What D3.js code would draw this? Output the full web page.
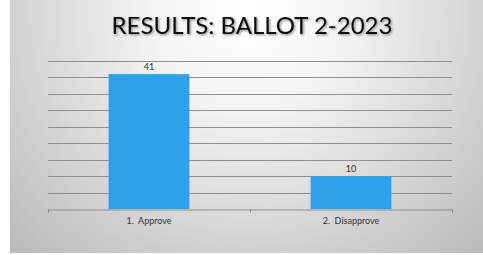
<!DOCTYPE html>
<html>
<head>
<meta charset="utf-8">
<script src="https://cdn.jsdelivr.net/npm/d3@7"></script>
<style>
  body { margin: 0; background: #fff; }
  svg { display: block; }
</style>
</head>
<body>
<div id="vis"></div>
<script>
// Data ----------------------------------------------------------------------------------------------------------------
const categories = ["1.  Approve", "2.  Disapprove"];
const votes = [41, 10];
const yTicks = [0, 5, 10, 15, 20, 25, 30, 35, 40, 45];
const titleText = "RESULTS: BALLOT 2-2023";

// Canvas --------------------------------------------------------------------------------------------------------------
const canvasWidth = 483;
const canvasHeight = 255;

const slideLeft = 10;
const slideBottom = 253;

const leftPadding = 48;
const plotRight = 452;
const topPadding = 61;
const bottomPadding = 46;

const fontStack = "'Century Gothic', 'Lato', 'DejaVu Sans', sans-serif";
const gridColor = "#8f8f8f";

const svg = d3.select("#vis")
  .append("svg")
  .attr("width", canvasWidth)
  .attr("height", canvasHeight);

const defs = svg.append("defs");
const bgGrad = defs.append("radialGradient")
  .attr("id", "bg")
  .attr("gradientUnits", "userSpaceOnUse")
  .attr("cx", 250).attr("cy", 10)
  .attr("r", 330);
bgGrad.append("stop").attr("offset", "0%").attr("stop-color", "#ffffff");
bgGrad.append("stop").attr("offset", "30%").attr("stop-color", "#f4f4f4");
bgGrad.append("stop").attr("offset", "100%").attr("stop-color", "#bcbcbc");

const shadow = defs.append("filter").attr("id", "shadow")
  .attr("x", "-10%").attr("y", "-30%").attr("width", "120%").attr("height", "160%");
shadow.append("feDropShadow")
  .attr("dx", 1.2).attr("dy", 1.2)
  .attr("stdDeviation", 0.8)
  .attr("flood-color", "#000")
  .attr("flood-opacity", 0.45);

// Slide background
svg.append("rect")
  .attr("x", slideLeft)
  .attr("y", 0)
  .attr("width", canvasWidth - slideLeft)
  .attr("height", slideBottom)
  .attr("fill", "url(#bg)");

// Title
svg.append("text")
  .text(titleText)
  .attr("x", 252)
  .attr("y", 34)
  .attr("text-anchor", "middle")
  .attr("filter", "url(#shadow)")
  .style("font-family", fontStack)
  .style("font-size", "24px")
  .style("fill", "#111");

// Scales --------------------------------------------------------------------------------------------------------------
const xScale = d3.scaleBand()
  .domain(categories)
  .range([leftPadding, plotRight])
  .paddingInner(0.6)
  .paddingOuter(0.3);

const yScale = d3.scaleLinear()
  .domain([0, 45])
  .range([canvasHeight - bottomPadding, topPadding]);

// Gridlines
svg.append("g")
  .selectAll("line")
  .data(yTicks.filter(d => d > 0))
  .join("line")
  .attr("x1", leftPadding)
  .attr("x2", plotRight)
  .attr("y1", d => Math.round(yScale(d)) + 0.5)
  .attr("y2", d => Math.round(yScale(d)) + 0.5)
  .attr("stroke", gridColor)
  .attr("stroke-width", 1);

// Bars
svg.append("g")
  .selectAll("rect")
  .data(votes)
  .join("rect")
  .attr("x", (d, i) => xScale(categories[i]))
  .attr("y", d => yScale(d))
  .attr("width", xScale.bandwidth())
  .attr("height", d => yScale(0) - yScale(d))
  .attr("fill", "#2ea1ea");

// Value labels
svg.append("g")
  .selectAll("text")
  .data(votes)
  .join("text")
  .text(d => d)
  .attr("x", (d, i) => xScale(categories[i]) + xScale.bandwidth() / 2)
  .attr("y", d => yScale(d) - 4)
  .attr("text-anchor", "middle")
  .style("font-family", fontStack)
  .style("font-size", "9px")
  .style("fill", "#333");

// X axis
const xAxisScale = d3.scaleBand().domain(categories).range([leftPadding, plotRight]);
const xAxis = svg.append("g")
  .attr("transform", "translate(0," + (Math.round(yScale(0)) + 0.5) + ")")
  .call(d3.axisBottom(xAxisScale).tickSize(0).tickPadding(8));
xAxis.select(".domain").attr("stroke", gridColor);
xAxis.selectAll("text")
  .style("font-family", fontStack)
  .style("font-size", "9px")
  .style("fill", "#333")
  .style("white-space", "pre");

// Category boundary tick marks
const boundaries = [leftPadding].concat(categories.map(c => xAxisScale(c) + xAxisScale.bandwidth()));
svg.append("g")
  .selectAll("line")
  .data(boundaries)
  .join("line")
  .attr("x1", d => Math.round(d) + 0.5)
  .attr("x2", d => Math.round(d) + 0.5)
  .attr("y1", Math.round(yScale(0)))
  .attr("y2", Math.round(yScale(0)) + 4)
  .attr("stroke", gridColor);
</script>
</body>
</html>
